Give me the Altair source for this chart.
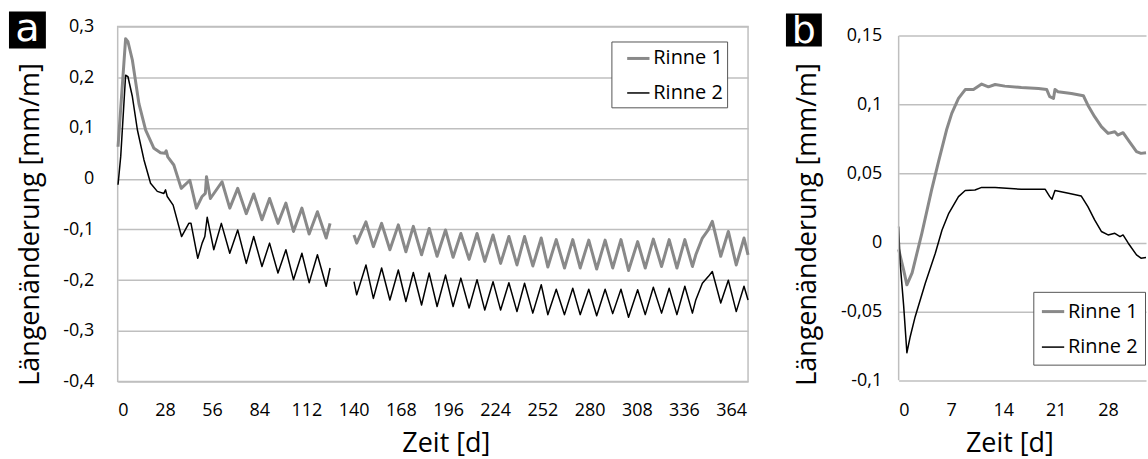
import altair as alt
import pandas as pd

FONT = "Open Sans"
TAG_FONT = "DejaVu Sans"
SERIES = ["Rinne 1", "Rinne 2"]
COLORS = ["#898989", "#000000"]
WIDTHS = [3, 1.5]
GRID = "#bfbfbf"

# ---------------- Panel a data ----------------
R1A_DAY = [0.2, 4.7, 6.1, 8.7, 12.6, 16.6, 21.5, 25.4, 28, 28.8, 29.7, 33.3, 37.7, 42.8, 46.7, 50.1, 52, 52.7,
           55, 61.9, 66.5, 71.2, 76.3, 80.7, 85.6, 90.1, 95.1, 99.8, 104.3, 109.3, 113.6, 118.5, 123.7, 126]
R1A_VAL = [0.063, 0.276, 0.27, 0.234, 0.148, 0.096, 0.06, 0.051, 0.05, 0.055, 0.043, 0.027, -0.019, -0.003,
           -0.058, -0.035, -0.029, 0.004, -0.039, -0.006, -0.058, -0.019, -0.069, -0.03, -0.081, -0.039, -0.088,
           -0.048, -0.104, -0.058, -0.109, -0.065, -0.117, -0.088]

R2A_DAY = [0.2, 1.8, 4.7, 6.1, 8.7, 11.7, 15.6, 19.5, 23.5, 27.4, 28.4, 29.4, 32.9, 37.9, 42.2, 43.5, 47.5, 50.1,
           51.7, 53.1, 57, 61.5, 66.5, 71.2, 76.3, 80.7, 85.6, 90.1, 95.1, 99.8, 104.3, 109.3, 113.6, 118.5,
           123.7, 126]
R2A_VAL = [-0.012, 0.044, 0.204, 0.201, 0.162, 0.096, 0.037, -0.009, -0.025, -0.029, -0.022, -0.035, -0.052,
           -0.114, -0.088, -0.088, -0.157, -0.127, -0.114, -0.076, -0.14, -0.088, -0.147, -0.101, -0.167, -0.114,
           -0.173, -0.127, -0.186, -0.14, -0.199, -0.147, -0.205, -0.15, -0.212, -0.176]

B_DAY = [140.2, 141.8, 147.3, 151.7, 156.6, 161.5, 166.5, 171, 175.4, 180.3, 184.8, 189.5, 194.5, 199, 203.6,
         208.5, 213.2, 217.8, 222.7, 227.2, 232.1, 236.9, 241.4, 246.3, 251.3, 255.2, 260.2, 265.1, 270, 274.4,
         279.5, 284.2, 289.2, 293.7, 298.6, 303.1, 308.5, 313, 317.8, 322.7, 327.2, 331.8, 336.5, 341, 343,
         346.9, 350.4, 352.8, 357.8, 362.3, 367, 371.6, 374]
R1B_VAL = [-0.111, -0.127, -0.085, -0.134, -0.088, -0.14, -0.091, -0.144, -0.094, -0.15, -0.098, -0.153, -0.101,
           -0.155, -0.108, -0.159, -0.108, -0.163, -0.111, -0.167, -0.114, -0.17, -0.114, -0.172, -0.117, -0.174,
           -0.12, -0.176, -0.12, -0.176, -0.121, -0.178, -0.121, -0.176, -0.12, -0.181, -0.124, -0.176, -0.119,
           -0.173, -0.12, -0.176, -0.12, -0.173, -0.15, -0.117, -0.101, -0.084, -0.153, -0.104, -0.17, -0.117,
           -0.15]
R2B_VAL = [-0.203, -0.229, -0.17, -0.236, -0.176, -0.239, -0.18, -0.242, -0.185, -0.249, -0.186, -0.252, -0.19,
           -0.252, -0.196, -0.255, -0.199, -0.259, -0.203, -0.259, -0.205, -0.262, -0.206, -0.265, -0.209, -0.268,
           -0.218, -0.268, -0.216, -0.268, -0.218, -0.27, -0.218, -0.266, -0.218, -0.273, -0.219, -0.268, -0.214,
           -0.265, -0.216, -0.268, -0.212, -0.265, -0.239, -0.206, -0.193, -0.183, -0.245, -0.2, -0.262, -0.212,
           -0.239]

X_TICKS_A = [0, 28, 56, 84, 112, 140, 168, 196, 224, 252, 280, 308, 336, 364]
Y_TICKS_A = [-0.4, -0.3, -0.2, -0.1, 0, 0.1, 0.2, 0.3]

# ---------------- Panel b data ----------------
B1_DAY = [0, 0.67, 1.1, 1.8, 3.1, 4.4, 5.33, 6.4, 7.1, 8.0, 8.9, 10, 11.1, 12, 12.9, 14.2, 16.4, 18.7, 19.8,
          20.2, 20.7, 20.9, 21.3, 23.1, 24.7, 25.3, 26.2, 27.1, 28, 28.9, 29.3, 30.0, 30.7, 31.8, 32.4, 33.07]
B1_VAL = [-0.005, -0.02, -0.0307, -0.022, 0.0067, 0.038, 0.0587, 0.0816, 0.0937, 0.1046, 0.111, 0.111, 0.115,
          0.113, 0.1147, 0.1135, 0.1125, 0.1118, 0.111, 0.1058, 0.1046, 0.111, 0.1094, 0.1082, 0.1065, 0.0997,
          0.0913, 0.0841, 0.0792, 0.0804, 0.078, 0.0797, 0.0743, 0.066, 0.0647, 0.0652]
B2_DAY = [0, 0.2, 0.67, 1.1, 1.56, 2.2, 3.56, 4.9, 5.8, 6.7, 8.0, 8.9, 10.2, 11.1, 12.9, 16.4, 19.6, 20.2, 20.5,
          20.9, 22.7, 24.4, 25.3, 26.2, 27.1, 28, 28.9, 29.6, 30, 30.7, 31.8, 32.4, 33.07]
B2_VAL = [0.0116, -0.015, -0.046, -0.080, -0.068, -0.054, -0.0295, -0.0078, 0.0091, 0.0212, 0.0333, 0.0377,
          0.0381, 0.04, 0.04, 0.0386, 0.0386, 0.0333, 0.0314, 0.0377, 0.0357, 0.0338, 0.0261, 0.0164, 0.008,
          0.0055, 0.0067, 0.0043, 0.0055, -0.0005, -0.009, -0.0114, -0.0109]

X_TICKS_B = [0, 7, 14, 21, 28]
Y_TICKS_B = [-0.1, -0.05, 0, 0.05, 0.1, 0.15]


def frame(day, val, series, seg):
    return pd.DataFrame({"day": day, "val": val, "series": series, "seg": seg})


df_a = pd.concat([
    frame(R1A_DAY, R1A_VAL, SERIES[0], "1a"),
    frame(B_DAY, R1B_VAL, SERIES[0], "1b"),
    frame(R2A_DAY, R2A_VAL, SERIES[1], "2a"),
    frame(B_DAY, R2B_VAL, SERIES[1], "2b"),
], ignore_index=True)

df_b = pd.concat([
    frame(B1_DAY, B1_VAL, SERIES[0], "1"),
    frame(B2_DAY, B2_VAL, SERIES[1], "2"),
], ignore_index=True)

LABEL_EXPR = "replace(toString(datum.value), '.', ',')"

color_scale = alt.Scale(domain=SERIES, range=COLORS)
width_scale = alt.Scale(domain=SERIES, range=WIDTHS)


def legend(x, y, pad, sym_off, row_pad, label_expr):
    return alt.Legend(title=None, orient="none", legendX=x, legendY=y, symbolType="stroke",
                      symbolSize=500, symbolStrokeWidth=2, labelFont=FONT, labelFontSize=20,
                      labelColor="black", labelOffset=2, padding=pad, symbolOffset=sym_off,
                      rowPadding=row_pad, strokeColor="#555555", fillColor="white",
                      labelExpr=label_expr)


def y_axis(title_x, label_pad, values):
    return alt.Axis(values=values, labelExpr=LABEL_EXPR, labelFont=FONT, labelFontSize=18,
                    labelColor="black", labelPadding=label_pad, ticks=False, tickSize=0, domain=False,
                    grid=True, gridColor=GRID, gridWidth=1.5, title="Längenänderung [mm/m]",
                    titleFont=FONT, titleFontSize=27, titleFontWeight="normal", titleColor="black",
                    titleX=title_x, titleY=198, titleAlign="center", titleBaseline="middle")


def x_axis(title_x, values):
    return alt.Axis(values=values, labelFont=FONT, labelFontSize=18, labelColor="black",
                    labelPadding=20, labelBaseline="top", ticks=False, tickSize=0, domain=False,
                    grid=False, title="Zeit [d]", titleFont=FONT, titleFontSize=27,
                    titleFontWeight="normal", titleColor="black", titleX=title_x, titleY=70,
                    titleAlign="center", titleBaseline="alphabetic", labelOverlap=False)


# ---------------- Panel a ----------------
ys_a = alt.Scale(domain=[-0.4, 0.3], nice=False, zero=False)
lines_a = alt.Chart(df_a).mark_line(strokeJoin="round").encode(
    x=alt.X("day:Q", scale=alt.Scale(domain=[0, 374], nice=False, zero=False), axis=x_axis(329, X_TICKS_A)),
    y=alt.Y("val:Q", scale=ys_a, axis=y_axis(-87, 24, Y_TICKS_A)),
    color=alt.Color("series:N", scale=color_scale,
                    legend=legend(495, 15, 4, 10, 12.6, "datum.label + '\u00a0\u00a0'")),
    strokeWidth=alt.StrokeWidth("series:N", scale=width_scale, legend=None),
    detail="seg:N",
)

tag_a = pd.DataFrame({"t": ["a"]})
box_a = alt.Chart(tag_a).mark_rect(color="black").encode(
    x=alt.value(-109), x2=alt.value(-72), y=alt.value(-15), y2=alt.value(22))
txt_a = alt.Chart(tag_a).mark_text(color="white", font=TAG_FONT, fontSize=40, align="center",
                                   baseline="alphabetic").encode(
    x=alt.value(-90.5), y=alt.value(15), text="t:N")

panel_a = alt.layer(lines_a, box_a, txt_a).properties(
    width=632, height=356,
    view=alt.ViewBackground(stroke=GRID, strokeWidth=1.5))

# ---------------- Panel b ----------------
ys_b = alt.Scale(domain=[-0.10094, 0.15674], nice=False, zero=False)
lines_b = alt.Chart(df_b).mark_line(strokeJoin="round").encode(
    x=alt.X("day:Q", scale=alt.Scale(domain=[0, 33.07], nice=False, zero=False), axis=x_axis(111, X_TICKS_B)),
    y=alt.Y("val:Q", scale=ys_b, axis=y_axis(-91, 17, Y_TICKS_B)),
    color=alt.Color("series:N", scale=color_scale,
                    legend=legend(135, 266, 6.8, 0, 13.6, "datum.label")),
    strokeWidth=alt.StrokeWidth("series:N", scale=width_scale, legend=None),
    detail="seg:N",
)

axis_line_b = alt.Chart(pd.DataFrame({"val": [0.15], "val2": [-0.1]})).mark_rule(
    color=GRID, strokeWidth=1.5).encode(
    x=alt.value(0), y=alt.Y("val:Q", scale=ys_b), y2="val2:Q")

tag_b = pd.DataFrame({"t": ["b"]})
box_b = alt.Chart(tag_b).mark_rect(color="black").encode(
    x=alt.value(-113), x2=alt.value(-77), y=alt.value(-13), y2=alt.value(20))
txt_b = alt.Chart(tag_b).mark_text(color="white", font=TAG_FONT, fontSize=38, align="center",
                                   baseline="alphabetic").encode(
    x=alt.value(-95), y=alt.value(17), text="t:N")

panel_b = alt.layer(lines_b, axis_line_b, box_b, txt_b).properties(
    width=248, height=356,
    view=alt.ViewBackground(strokeWidth=0))

chart = alt.hconcat(panel_a, panel_b, spacing=151, bounds="flush").resolve_scale(
    color="independent", strokeWidth="independent"
).resolve_legend(
    color="independent", strokeWidth="independent"
).properties(
    padding={"left": 8, "top": 8, "right": 0, "bottom": 3},
    background="white",
).configure_view(strokeWidth=0)

chart.save("out.html", embed_options={"renderer": "svg", "actions": False})
